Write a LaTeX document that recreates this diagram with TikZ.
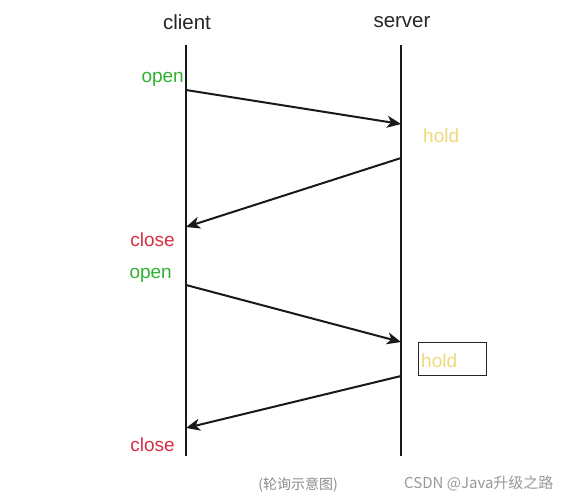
\documentclass[tikz,border=0pt]{standalone}
\usepackage{fontspec}
\setmainfont{Liberation Sans}
\newfontfamily\cjk{Noto Sans CJK SC}
\usetikzlibrary{arrows.meta}
\definecolor{opengreen}{RGB}{48,178,48}
\definecolor{closered}{RGB}{214,48,66}
\definecolor{holdyellow}{RGB}{238,218,120}
\tikzset{
	lifeline/.style={line width=2pt, color=black!90},
	msg/.style={line width=2pt, color=black!90, -{Stealth[length=14pt,width=12pt,inset=4pt]}},
	openlbl/.style={text=opengreen, font=\fontsize{19}{21}\selectfont, anchor=east, inner sep=0pt},
	closelbl/.style={text=closered, font=\fontsize{19}{21}\selectfont, anchor=east, inner sep=0pt},
	holdlbl/.style={text=holdyellow, font=\fontsize{19}{21}\selectfont, anchor=west, inner sep=0pt},
	headlbl/.style={font=\fontsize{20.5}{23}\selectfont, text=black!85}
}
\begin{document}
\begin{tikzpicture}[x=1pt, y=-1pt]
		%%%%% START %%%%%
		\useasboundingbox[fill=white] (0, 0) rectangle (563, 499);
		
		\node[headlbl] (client) at (187, 22) {client};
		\node[headlbl] (server) at (402, 22) {server};
		
		\coordinate (ctop) at (186, 45);
		\coordinate (cbot) at (186, 456);
		\coordinate (stop) at (401, 45);
		\coordinate (sbot) at (401, 456);
		\draw[lifeline] (ctop) -- (cbot);
		\draw[lifeline] (stop) -- (sbot);
		
		\coordinate (c1) at (186, 90);
		\coordinate (s1) at (401, 124);
		\coordinate (s2) at (401, 158);
		\coordinate (c2) at (186, 227);
		\coordinate (c3) at (186, 285);
		\coordinate (s3) at (401, 342);
		\coordinate (s4) at (401, 376);
		\coordinate (c4) at (186, 428);
		
		\draw[msg] (c1) -- (s1);
		\draw[msg] (s2) -- (c2);
		\draw[msg] (c3) -- (s3);
		\draw[msg] (s4) -- (c4);
		
		\node[openlbl] (open1) at (184, 79) {open};
		\node[holdlbl] (hold1) at (423, 136) {hold};
		\node[closelbl] (close1) at (175, 240) {close};
		\node[openlbl] (open2) at (172, 275) {open};
		\draw[line width=0.9pt, color=black!85] (418, 342) rectangle (486, 375);
		\node[holdlbl] (hold2) at (421, 361) {hold};
		\node[closelbl] (close2) at (175, 445) {close};
		
		\node[text=black!45, font=\cjk\fontsize{14}{16}\selectfont] (caption) at (298, 485) {(轮询示意图)};
		\node[text=black!40, font=\cjk\fontsize{15}{17}\selectfont, anchor=east] (mark) at (557, 483) {CSDN @Java升级之路};
		
		%%%%% END %%%%%
	\end{tikzpicture}
\end{document}
